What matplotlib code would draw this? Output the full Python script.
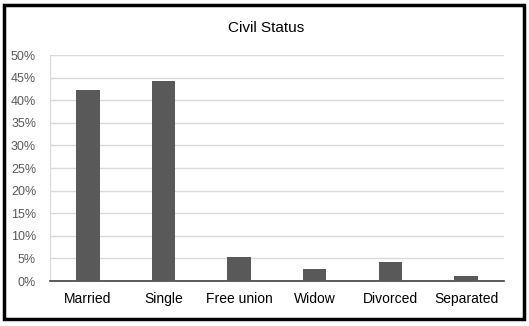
import matplotlib.pyplot as plt
from matplotlib.patches import Rectangle
from matplotlib.ticker import PercentFormatter

categories = ['Married', 'Single', 'Free union', 'Widow', 'Divorced', 'Separated']
shares = [0.423, 0.442, 0.054, 0.026, 0.043, 0.012]
yticks = [i * 0.05 for i in range(11)]

plt.rcParams['font.family'] = ['Liberation Sans', 'DejaVu Sans']

fig = plt.figure(figsize=(5.29, 3.26), dpi=100)
ax = fig.add_axes([0.0945, 0.138, 0.858, 0.693])

ax.bar(range(len(categories)), shares, width=0.31, color='#595959', zorder=3)
ax.set_xlim(-0.5, len(categories) - 0.5)
ax.set_ylim(0, 0.5)
ax.set_yticks(yticks)
ax.yaxis.set_major_formatter(PercentFormatter(1.0, decimals=0))
ax.set_xticks(range(len(categories)))
ax.set_xticklabels(categories, fontsize=10)
ax.tick_params(axis='y', labelsize=9, colors='#595959', length=0, pad=10)
ax.tick_params(axis='x', length=0, pad=8)
ax.grid(axis='y', color='#d9d9d9', linewidth=1, zorder=0)

for s in ['top', 'right']:
    ax.spines[s].set_visible(False)
ax.spines['left'].set_color('#d9d9d9')
ax.spines['bottom'].set_color('#404040')
ax.spines['bottom'].set_linewidth(1.2)

fig.text(0.503, 0.915, 'Civil Status', ha='center', va='center', fontsize=11)

fig.patches.append(Rectangle((0.007, 0.022), 0.983, 0.963, transform=fig.transFigure,
                             fill=False, edgecolor='black', linewidth=2.5))

fig.savefig('out.png', dpi=100)
